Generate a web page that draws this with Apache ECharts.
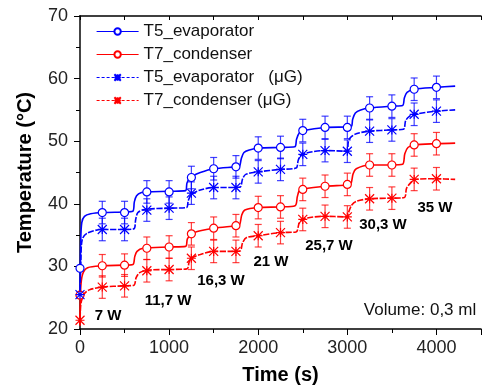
<!DOCTYPE html>
<html>
<head>
<meta charset="utf-8">
<script src="https://cdn.jsdelivr.net/npm/echarts@6/dist/echarts.min.js"></script>
<style>
  html, body { margin:0; padding:0; background:#fff; }
  #chart { width:484px; height:390px; }
</style>
</head>
<body>
<div id="chart"></div>
<script type="text/javascript">
// marker times (s), one marker every 250 s
var markTimes = [0,250,500,750,1000,1250,1500,1750,2000,2250,2500,2750,3000,3250,3500,3750,4000];

// marker values (°C)
var t5Evap   = [29.7,38.6,38.6,41.9,41.9,44.2,45.6,45.9,48.9,49.0,51.7,52.2,52.2,55.3,55.6,58.3,58.6];
var t7Cond   = [25.4,30.1,30.2,32.9,33.1,35.2,36.1,36.5,39.4,39.5,42.3,42.8,43.1,46.2,46.2,49.4,49.6];
var t5EvapUG = [25.5,35.9,35.9,39.0,39.3,41.7,42.6,42.6,45.1,45.5,47.9,48.5,48.4,51.6,51.8,54.3,54.8];
var t7CondUG = [21.4,26.7,26.9,29.3,29.5,31.3,32.4,32.4,34.9,35.4,37.5,38.0,37.9,40.8,40.9,43.9,44.0];

// error bar half height (°C)
var errHalf = 1.8;

// measured traces [time, temperature]
var t5EvapTrace = [[0,25.5],[8,34],[20,37],[50,38],[120,38.4],[250,38.6],[500,38.7],[592,38.8],[610,40.3],[635,41.3],[690,41.8],[750,41.9],[1000,42.0],[1185,42.1],[1200,43.3],[1225,44.0],[1260,44.4],[1350,45.0],[1500,45.6],[1750,45.9],[1790,46.0],[1810,47.2],[1840,48.2],[1900,48.6],[2000,48.9],[2250,49.0],[2410,49.1],[2430,50.3],[2460,51.3],[2510,51.7],[2750,52.2],[3040,52.3],[3060,53.5],[3090,54.5],[3150,55.0],[3250,55.3],[3500,55.6],[3620,55.7],[3640,56.9],[3670,57.8],[3750,58.3],[4000,58.6],[4210,58.8]];
var t7CondTrace = [[0,21],[8,26.5],[30,28.8],[86,29.8],[250,30.1],[500,30.2],[594,30.3],[615,31.6],[640,32.4],[706,32.9],[1000,33.1],[1185,33.2],[1205,34.4],[1250,35.2],[1350,35.7],[1500,36.1],[1750,36.5],[1790,36.6],[1815,38.2],[1850,39.0],[2000,39.4],[2250,39.5],[2414,39.7],[2440,41.2],[2470,42.2],[2750,42.8],[3000,43.0],[3040,43.2],[3065,44.8],[3100,45.6],[3250,46.2],[3500,46.2],[3620,46.3],[3645,48.0],[3680,49.0],[3750,49.4],[4000,49.6],[4210,49.7]];
var t5EvapUGTrace = [[0,25],[10,31],[25,34.3],[80,35.3],[250,35.9],[500,35.9],[605,36.0],[625,37.5],[650,38.6],[725,39.1],[1000,39.3],[1195,39.4],[1215,40.5],[1250,41.5],[1350,42.2],[1500,42.6],[1750,42.6],[1800,42.7],[1825,44.0],[1860,44.7],[2000,45.1],[2250,45.5],[2425,45.7],[2450,47.0],[2490,47.9],[2750,48.5],[3000,48.4],[3010,49.8],[3030,50.5],[3100,51.2],[3250,51.6],[3500,51.8],[3630,51.9],[3655,53.3],[3700,54.0],[3750,54.3],[4000,54.8],[4210,55.0]];
var t7CondUGTrace = [[0,20.5],[10,24],[48,25.6],[104,26.25],[250,26.7],[500,26.9],[605,27.0],[630,28.2],[669,29.0],[761,29.4],[1000,29.5],[1200,29.6],[1225,30.7],[1250,31.3],[1350,31.9],[1500,32.4],[1750,32.4],[1800,32.5],[1825,33.8],[1870,34.6],[2000,34.9],[2250,35.4],[2425,35.5],[2460,36.9],[2507,37.6],[2750,38.0],[3000,37.9],[3010,38.5],[3050,39.8],[3100,40.4],[3250,40.8],[3500,40.9],[3640,41.0],[3665,42.5],[3720,43.5],[3750,43.9],[4000,44.0],[4210,43.9]];

// power steps
var powerLabels = ['7 W','11,7 W','16,3 W','21 W','25,7 W','30,3 W','35 W'];

var names = ['T5_evaporator','T7_condenser','T5_evaporator   (\u03bcG)','T7_condenser (\u03bcG)'];
var BLUE = '#0000ff', RED = '#ff0000';
var FONT = '"Liberation Sans", Arial, sans-serif';
var STAR = 'path://M0,0L10,10M10,0L0,10M5,0L5,10M0,5L10,5';

function pairs(vals) {
  return markTimes.map(function (t, i) { return [t, vals[i]]; });
}
function errs(vals) {
  var out = [];
  markTimes.forEach(function (t, i) {
    if (t > 0) out.push([t, vals[i] - errHalf, vals[i] + errHalf]);
  });
  return out;
}
function errSeries(vals, color) {
  return {
    type: 'custom', xAxisIndex: 0, yAxisIndex: 0, z: 3,
    data: errs(vals),
    renderItem: function (params, api) {
      var lo = api.coord([api.value(0), api.value(1)]);
      var hi = api.coord([api.value(0), api.value(2)]);
      var w = 3.5;
      var st = { stroke: color, lineWidth: 1.2, opacity: 0.75 };
      return { type: 'group', children: [
        { type: 'line', shape: { x1: lo[0], y1: lo[1], x2: hi[0], y2: hi[1] }, style: st },
        { type: 'line', shape: { x1: lo[0] - w, y1: lo[1], x2: lo[0] + w, y2: lo[1] }, style: st },
        { type: 'line', shape: { x1: hi[0] - w, y1: hi[1], x2: hi[0] + w, y2: hi[1] }, style: st }
      ]};
    }
  };
}
function traceSeries(name, data, color, symbol, dashed) {
  return {
    name: name, type: 'line', data: data, showSymbol: false, symbol: symbol, symbolSize: 8,
    smooth: 0.3, z: 2,
    lineStyle: { color: color, width: 1.6, type: dashed ? [6, 1.5] : 'solid' },
    itemStyle: { color: color, borderColor: color, borderWidth: 1.2 }
  };
}
function markSeries(vals, color, star) {
  return {
    type: 'scatter', data: pairs(vals), z: 4,
    symbol: star ? STAR : 'circle', symbolSize: star ? 9 : 8,
    itemStyle: star ? { color: color, borderColor: color, borderWidth: 1.2, opacity: 1 }
                    : { color: '#fff', borderColor: color, borderWidth: 1.2, opacity: 1 }
  };
}

var myChart = echarts.init(document.getElementById('chart'));
var option = {
  animation: false,
  textStyle: { fontFamily: FONT },
  grid: { left: 80, right: 0, top: 16, bottom: 54 },
  legend: {
    orient: 'vertical', left: 91, top: 18, itemWidth: 42, itemHeight: 8, itemGap: 6,
    textStyle: { fontFamily: FONT, fontSize: 17, color: '#111', lineHeight: 17 },
    data: [
      { name: names[0], lineStyle: { width: 1.2 } },
      { name: names[1], lineStyle: { width: 1.2 } },
      { name: names[2], lineStyle: { width: 1.2, type: [3, 2] } },
      { name: names[3], lineStyle: { width: 1.2, type: [3, 2] } }
    ]
  },
  xAxis: [
    {
      type: 'value', min: 0, max: 4500, interval: 1000,
      name: 'Time (s)', nameLocation: 'middle', nameGap: 36,
      nameTextStyle: { fontFamily: FONT, fontSize: 20, fontWeight: 'bold', color: '#000' },
      axisLine: { lineStyle: { color: '#000', width: 1.5 } },
      axisTick: { inside: false, length: 6, lineStyle: { color: '#000' } },
      minorTick: { show: true, splitNumber: 2, length: 4, lineStyle: { color: '#000' } },
      splitLine: { show: false },
      axisLabel: { fontSize: 18, color: '#222', margin: 10,
        formatter: function (v) { return v % 1000 === 0 ? String(v) : ''; } }
    },
    {
      type: 'value', position: 'top', min: 0, max: 4500, interval: 500,
      axisLine: { lineStyle: { color: '#000', width: 1.5 } },
      axisTick: { inside: true, length: 4, lineStyle: { color: '#000' } },
      axisLabel: { show: false }, splitLine: { show: false }
    }
  ],
  yAxis: {
    type: 'value', min: 20, max: 70, interval: 10,
    name: 'Temperature (\u00b0C)', nameLocation: 'middle', nameGap: 45,
    nameTextStyle: { fontFamily: FONT, fontSize: 20, fontWeight: 'bold', color: '#000' },
    axisLine: { show: true, lineStyle: { color: '#444', width: 2 } },
    axisTick: { inside: false, length: 6, lineStyle: { color: '#000' } },
    minorTick: { show: true, splitNumber: 2, length: 4, lineStyle: { color: '#000' } },
    splitLine: { show: false },
    axisLabel: { fontSize: 18, color: '#222', margin: 12 }
  },
  series: [
    traceSeries(names[0], t5EvapTrace, BLUE, 'emptyCircle', false),
    traceSeries(names[1], t7CondTrace, RED, 'emptyCircle', false),
    traceSeries(names[2], t5EvapUGTrace, BLUE, STAR, true),
    traceSeries(names[3], t7CondUGTrace, RED, STAR, true),
    errSeries(t5Evap, BLUE),
    errSeries(t7Cond, RED),
    errSeries(t5EvapUG, BLUE),
    errSeries(t7CondUG, RED),
    markSeries(t5Evap, BLUE, false),
    markSeries(t7Cond, RED, false),
    markSeries(t5EvapUG, BLUE, true),
    markSeries(t7CondUG, RED, true)
  ],
  graphic: [
    { type: 'text', x: 108, y: 316, style: { text: powerLabels[0], font: 'bold 15px ' + FONT, fill: '#000', align: 'center', verticalAlign: 'middle' } },
    { type: 'text', x: 168, y: 301, style: { text: powerLabels[1], font: 'bold 15px ' + FONT, fill: '#000', align: 'center', verticalAlign: 'middle' } },
    { type: 'text', x: 221, y: 281, style: { text: powerLabels[2], font: 'bold 15px ' + FONT, fill: '#000', align: 'center', verticalAlign: 'middle' } },
    { type: 'text', x: 271, y: 262, style: { text: powerLabels[3], font: 'bold 15px ' + FONT, fill: '#000', align: 'center', verticalAlign: 'middle' } },
    { type: 'text', x: 329, y: 246, style: { text: powerLabels[4], font: 'bold 15px ' + FONT, fill: '#000', align: 'center', verticalAlign: 'middle' } },
    { type: 'text', x: 383, y: 225, style: { text: powerLabels[5], font: 'bold 15px ' + FONT, fill: '#000', align: 'center', verticalAlign: 'middle' } },
    { type: 'text', x: 435, y: 208, style: { text: powerLabels[6], font: 'bold 15px ' + FONT, fill: '#000', align: 'center', verticalAlign: 'middle' } },
    { type: 'text', x: 420, y: 310, style: { text: 'Volume: 0,3 ml', font: '17px ' + FONT, fill: '#111', align: 'center', verticalAlign: 'middle' } }
  ]
};
myChart.setOption(option);
</script>
</body>
</html>
